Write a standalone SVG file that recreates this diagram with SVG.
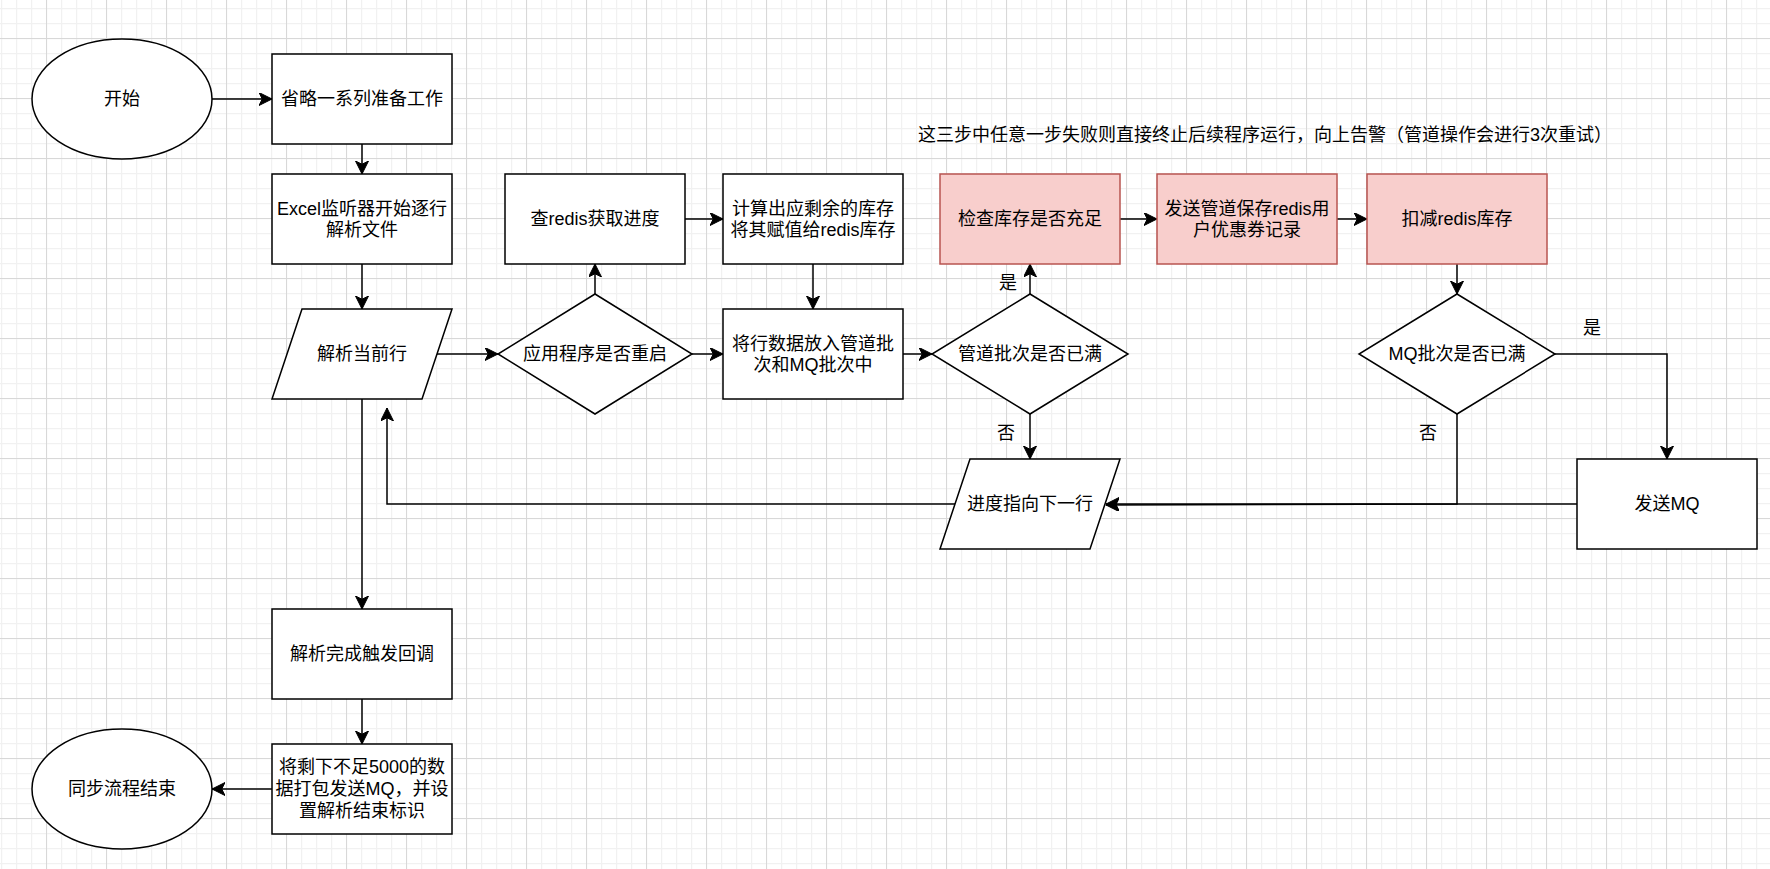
<svg xmlns="http://www.w3.org/2000/svg" width="1770" height="869" viewBox="0 0 1770 869">
<defs>
<style>
.n{fill:#ffffff;stroke:#000000;stroke-width:1.5}
.r{fill:#f8cecc;stroke:#b85450;stroke-width:1.5}
.t{font-family:"Liberation Sans","Noto Sans CJK SC",sans-serif;font-size:18px;fill:#000000;text-anchor:middle;dominant-baseline:central}
.e{fill:none;stroke:#000000;stroke-width:1.5}
.a{marker-end:url(#arr)}
</style>
<pattern id="minor" patternUnits="userSpaceOnUse" x="46" y="38" width="15" height="15">
<path d="M0.5 0 V15 M0 0.5 H15" fill="none" stroke="#f1f1f1" stroke-width="1.5"/>
</pattern>
<pattern id="major" patternUnits="userSpaceOnUse" x="46" y="38" width="60" height="60">
<path d="M0.5 0 V60 M0 0.5 H60" fill="none" stroke="#d8d8d8" stroke-width="1"/>
</pattern>
<marker id="arr" markerUnits="userSpaceOnUse" markerWidth="14" markerHeight="14" refX="13" refY="6.5" orient="auto" viewBox="0 0 14 14">
<path d="M0,0 L13,6.5 L0,13 L3.25,6.5 Z" fill="#000000" stroke="#000000" stroke-width="1"/>
</marker>
</defs>
<rect x="0" y="0" width="1770" height="869" fill="#ffffff"/>
<rect x="0" y="0" width="1770" height="869" fill="url(#minor)"/>
<rect x="0" y="0" width="1770" height="869" fill="url(#major)"/>

<g id="connectors">
<path class="e a" d="M212,99 L272,99"/>
<path class="e a" d="M362,144 L362,174"/>
<path class="e a" d="M362,264 L362,309"/>
<path class="e a" d="M437,354 L498,354"/>
<path class="e a" d="M595,294 L595,264"/>
<path class="e a" d="M685,219 L723,219"/>
<path class="e a" d="M813,264 L813,309"/>
<path class="e a" d="M692,354 L723,354"/>
<path class="e a" d="M903,354 L932,354"/>
<path class="e a" d="M1030,294 L1030,264"/>
<text class="t" x="1008" y="283">是</text>
<path class="e a" d="M1120,219 L1157,219"/>
<path class="e a" d="M1337,219 L1367,219"/>
<path class="e a" d="M1457,264 L1457,294"/>
<path class="e a" d="M1555,354 L1667,354 L1667,459"/>
<text class="t" x="1592" y="328">是</text>
<path class="e a" d="M1457,414 L1457,504 L1106,505"/>
<text class="t" x="1428" y="433">否</text>
<path class="e a" d="M1577,504 L1106,504"/>
<path class="e a" d="M1030,414 L1030,459"/>
<text class="t" x="1006" y="433">否</text>
<path class="e a" d="M955,504 L387,504 L387,408"/>
<path class="e a" d="M362,399 L362,609"/>
<path class="e a" d="M362,699 L362,744"/>
<path class="e a" d="M272,789 L212,789"/>
</g>

<g id="start">
<ellipse class="n" cx="122" cy="99" rx="90" ry="60"/>
<text class="t" x="122" y="99">开始</text>
</g>
<g id="prepare">
<rect class="n" x="272" y="54" width="180" height="90"/>
<text class="t" x="362" y="99">省略一系列准备工作</text>
</g>
<g id="excel">
<rect class="n" x="272" y="174" width="180" height="90"/>
<text class="t" x="362" y="208.5">Excel监听器开始逐行</text>
<text class="t" x="362" y="229.5">解析文件</text>
</g>
<g id="parseRow">
<polygon class="n" points="302,309 452,309 422,399 272,399"/>
<text class="t" x="362" y="354">解析当前行</text>
</g>
<g id="restart">
<polygon class="n" points="595,294 692,354 595,414 498,354"/>
<text class="t" x="595" y="354">应用程序是否重启</text>
</g>
<g id="queryRedis">
<rect class="n" x="505" y="174" width="180" height="90"/>
<text class="t" x="595" y="219">查redis获取进度</text>
</g>
<g id="calcStock">
<rect class="n" x="723" y="174" width="180" height="90"/>
<text class="t" x="813" y="208.5">计算出应剩余的库存</text>
<text class="t" x="813" y="229.5">将其赋值给redis库存</text>
</g>
<g id="putBatch">
<rect class="n" x="723" y="309" width="180" height="90"/>
<text class="t" x="813" y="343.5">将行数据放入管道批</text>
<text class="t" x="813" y="364.5">次和MQ批次中</text>
</g>
<g id="pipeFull">
<polygon class="n" points="1030,294 1128,354 1030,414 932,354"/>
<text class="t" x="1030" y="354">管道批次是否已满</text>
</g>
<g id="note">
<text class="t" x="1265" y="135">这三步中任意一步失败则直接终止后续程序运行，向上告警（管道操作会进行3次重试）</text>
</g>
<g id="checkStock">
<rect class="r" x="940" y="174" width="180" height="90"/>
<text class="t" x="1030" y="219">检查库存是否充足</text>
</g>
<g id="sendPipe">
<rect class="r" x="1157" y="174" width="180" height="90"/>
<text class="t" x="1247" y="208.5">发送管道保存redis用</text>
<text class="t" x="1247" y="229.5">户优惠券记录</text>
</g>
<g id="deduct">
<rect class="r" x="1367" y="174" width="180" height="90"/>
<text class="t" x="1457" y="219">扣减redis库存</text>
</g>
<g id="mqFull">
<polygon class="n" points="1457,294 1555,354 1457,414 1359,354"/>
<text class="t" x="1457" y="354">MQ批次是否已满</text>
</g>
<g id="sendMQ">
<rect class="n" x="1577" y="459" width="180" height="90"/>
<text class="t" x="1667" y="504">发送MQ</text>
</g>
<g id="nextRow">
<polygon class="n" points="970,459 1120,459 1090,549 940,549"/>
<text class="t" x="1030" y="504">进度指向下一行</text>
</g>
<g id="parseDone">
<rect class="n" x="272" y="609" width="180" height="90"/>
<text class="t" x="362" y="654">解析完成触发回调</text>
</g>
<g id="packRest">
<rect class="n" x="272" y="744" width="180" height="90"/>
<text class="t" x="362" y="767.4">将剩下不足5000的数</text>
<text class="t" x="362" y="789">据打包发送MQ，并设</text>
<text class="t" x="362" y="810.6">置解析结束标识</text>
</g>
<g id="end">
<ellipse class="n" cx="122" cy="789" rx="90" ry="60"/>
<text class="t" x="122" y="789">同步流程结束</text>
</g>
</svg>
